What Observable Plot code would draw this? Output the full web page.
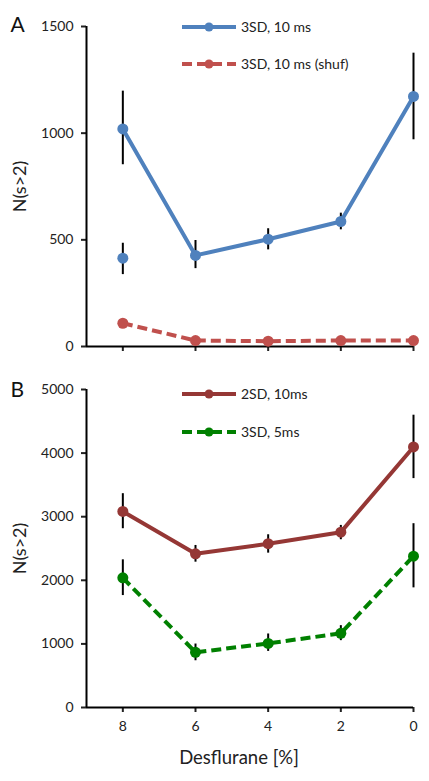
<!DOCTYPE html>
<html><head><meta charset="utf-8">
<script src="https://cdn.jsdelivr.net/npm/d3@7"></script>
<script src="https://cdn.jsdelivr.net/npm/@observablehq/plot@0.6"></script>
<style>
body{margin:0;background:#fff;}
#wrap{position:relative;width:429px;height:781px;font-family:Lato,"Open Sans",sans-serif;}
#wrap svg{position:absolute;left:0;overflow:visible;}
</style></head><body><div id="wrap"></div>
<script>
// Desflurane concentrations [%]
const desflurane = [8, 6, 4, 2, 0];
const xTicks = [8, 6, 4, 2, 0];

// Panel A
const a_3sd10 = [1020, 427, 503, 586, 1172];
const a_3sd10_lo = [852, 365, 453, 547, 969];
const a_3sd10_hi = [1197, 497, 552, 625, 1375];
const a_extra = [{d: 8, v: 414, lo: 337, hi: 484}];
const a_shuf = [109, 28, 25, 28, 28];
const aTicks = [0, 500, 1000, 1500];

// Panel B
const b_2sd10 = [3083, 2417, 2575, 2757, 4097];
const b_2sd10_lo = [2811, 2285, 2427, 2638, 3599];
const b_2sd10_hi = [3362, 2548, 2716, 2863, 4596];
const b_3sd5 = [2039, 867, 1008, 1166, 2380];
const b_3sd5_lo = [1760, 735, 882, 1051, 1881];
const b_3sd5_hi = [2322, 998, 1156, 1287, 2890];
const bTicks = [0, 1000, 2000, 3000, 4000, 5000];

const FONT = "Lato, 'Open Sans', sans-serif";
const BLUE = "#4f81bd", RED = "#c0504d", DRED = "#953735", GREEN = "#008000";

const rows = (vals, lo, hi) => desflurane.map((d, i) => ({d, v: vals[i], lo: lo ? lo[i] : null, hi: hi ? hi[i] : null}));

function series(data, color, dashed, r) {
  return [
    Plot.line(data, {x: "d", y: "v", stroke: color, strokeWidth: 4, strokeDasharray: dashed ? "10,5" : null, strokeLinecap: "butt"}),
    Plot.dot(data, {x: "d", y: "v", r: r || 5.5, fill: color, stroke: "none"})
  ];
}
function errs(data) {
  return Plot.ruleX(data, {x: "d", y1: "lo", y2: "hi", stroke: "black", strokeWidth: 2});
}

function panel({height, marginTop, marginBottom, yDomain, yTicks, letter, letterDy, marks, showXLabels}) {
  return Plot.plot({
    width: 429, height, marginLeft: 86, marginRight: 16, marginTop, marginBottom,
    style: {fontFamily: FONT, fontSize: "14px", color: "#222", background: "transparent"},
    x: {domain: [9, 0], axis: null},
    y: {domain: yDomain, axis: null},
    marks: [
      Plot.axisY({ticks: yTicks, tickSize: 5, tickPadding: 8, tickFormat: d => String(d), fontSize: 14, label: null, strokeWidth: 2}),
      Plot.axisX({ticks: xTicks, tickSize: 5, tickPadding: 9, tickFormat: showXLabels ? (d => String(d)) : (() => ""), fontSize: 14, label: null, strokeWidth: 2}),
      Plot.ruleX([9], {stroke: "black", strokeWidth: 2}),
      Plot.ruleY([0], {stroke: "black", strokeWidth: 2}),
      Plot.text(["N(s>2)"], {frameAnchor: "left", dx: -66, rotate: -90, textAnchor: "middle", fontSize: 18, fill: "#222"}),
      Plot.text([letter], {frameAnchor: "top-left", dx: -76, dy: letterDy, fontSize: 21, fill: "#111", textAnchor: "start"}),
      ...marks
    ]
  });
}

function addLegend(svg, items) {
  const s = d3.select(svg);
  items.forEach(it => {
    const g = s.append("g");
    g.append("line").attr("x1", 182).attr("x2", 236).attr("y1", it.y).attr("y2", it.y)
      .attr("stroke", it.color).attr("stroke-width", 4)
      .attr("stroke-dasharray", it.dashed ? "10,5" : null);
    g.append("circle").attr("cx", 209).attr("cy", it.y).attr("r", 4.5).attr("fill", it.color);
    g.append("text").attr("x", 241).attr("y", it.y).attr("dy", "0.35em")
      .attr("text-anchor", "start")
      .attr("font-family", FONT).attr("font-size", 14).attr("fill", "#222").text(it.label);
  });
}

const A_blue = rows(a_3sd10, a_3sd10_lo, a_3sd10_hi);
const A_red = rows(a_shuf);
const plotA = panel({
  height: 360, marginTop: 26, marginBottom: 14, yDomain: [0, 1500], yTicks: aTicks,
  letter: "A", letterDy: -9, showXLabels: false,
  marks: [
    errs(A_blue), errs(a_extra),
    ...series(A_red, RED, true),
    ...series(A_blue, BLUE, false),
    Plot.dot(a_extra, {x: "d", y: "v", r: 5.5, fill: BLUE})
  ]
});
plotA.style.top = "0px";
addLegend(plotA, [
  {y: 27, color: BLUE, dashed: false, label: "3SD, 10 ms"},
  {y: 64, color: RED, dashed: true, label: "3SD, 10 ms (shuf)"}
]);

const B_dred = rows(b_2sd10, b_2sd10_lo, b_2sd10_hi);
const B_green = rows(b_3sd5, b_3sd5_lo, b_3sd5_hi);
const plotB = panel({
  height: 421, marginTop: 29, marginBottom: 74, yDomain: [0, 5000], yTicks: bTicks,
  letter: "B", letterDy: -7, showXLabels: true,
  marks: [
    errs(B_dred), errs(B_green),
    ...series(B_green, GREEN, true),
    ...series(B_dred, DRED, false),
    Plot.text(["Desflurane [%]"], {frameAnchor: "bottom", dx: -11, dy: 56, fontSize: 18.5, fill: "#222"})
  ]
});
plotB.style.top = "360px";
addLegend(plotB, [
  {y: 34, color: DRED, dashed: false, label: "2SD, 10ms"},
  {y: 72, color: GREEN, dashed: true, label: "3SD, 5ms"}
]);

const wrap = document.getElementById("wrap");
wrap.appendChild(plotA);
wrap.appendChild(plotB);
</script></body></html>
